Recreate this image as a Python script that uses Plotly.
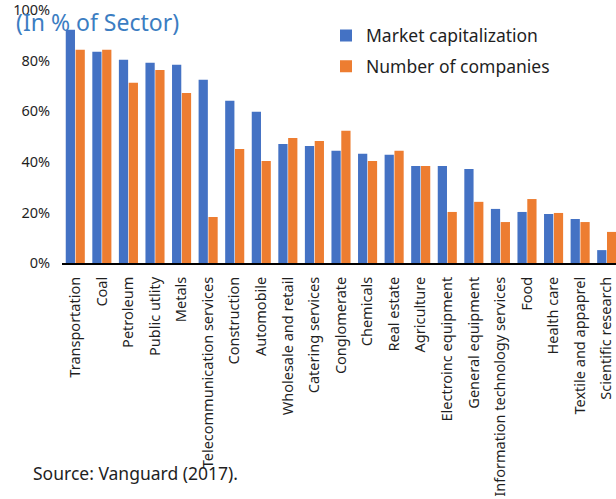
import plotly.graph_objects as go

categories = ["Transportation", "Coal", "Petroleum", "Public utlity", "Metals",
              "Telecommunication services", "Construction", "Automobile",
              "Wholesale and retail", "Catering services", "Conglomerate",
              "Chemicals", "Real estate", "Agriculture", "Electroinc equipment",
              "General equipment", "Information technology services", "Food",
              "Health care", "Textile and appaprel", "Scientific research"]

market_cap = [0.923, 0.836, 0.804, 0.792, 0.784, 0.725, 0.642, 0.598, 0.471, 0.463,
              0.444, 0.432, 0.428, 0.384, 0.384, 0.372, 0.214, 0.202, 0.194, 0.174, 0.051]
num_companies = [0.844, 0.844, 0.713, 0.764, 0.673, 0.182, 0.451, 0.404, 0.495, 0.483,
                 0.523, 0.404, 0.444, 0.384, 0.202, 0.242, 0.162, 0.253, 0.198, 0.162, 0.123]

y_ticks = [0, 0.2, 0.4, 0.6, 0.8, 1.0]
y_tick_labels = ["0%", "20%", "40%", "60%", "80%", "100%"]

BLUE = "#4472C4"
ORANGE = "#ED7D31"
TXT = "#1f1f1f"
FONT = "Noto Sans"

fig = go.Figure()
fig.add_trace(go.Bar(x=categories, y=market_cap, name="Market capitalization",
                     marker=dict(color=BLUE, line=dict(width=0)), legendgroup="a"))
fig.add_trace(go.Bar(x=categories, y=num_companies, name="Number of companies",
                     marker=dict(color=ORANGE, line=dict(width=0)), legendgroup="b"))

PLOT_H = 499 - 10 - 236
PLOT_W = 620 - 62

fig.update_layout(
    width=620, height=499,
    margin=dict(l=62, r=0, t=10, b=236),
    paper_bgcolor="white", plot_bgcolor="white",
    barmode="group", bargap=0.26, bargroupgap=0.06,
    font=dict(family=FONT, color=TXT, size=14),
    showlegend=True,
    legend=dict(x=(326 - 62) / PLOT_W, y=1 + (6 - 13.5) / PLOT_H,
                xanchor="left", yanchor="top",
                font=dict(size=17.5, color=TXT), tracegroupgap=5,
                bgcolor="rgba(0,0,0,0)"),
    xaxis=dict(tickangle=-90, showline=True, linecolor="#000", linewidth=2,
               ticks="outside", ticklen=6, tickcolor="rgba(0,0,0,0)",
               tickfont=dict(size=14.5, color=TXT), showgrid=False,
               range=[-0.5, len(categories) - 0.5]),
    yaxis=dict(range=[0, 1.001], tickvals=y_ticks, ticktext=y_tick_labels,
               showgrid=False, zeroline=False, showline=False,
               ticks="outside", ticklen=8, tickcolor="rgba(0,0,0,0)",
               ticklabeloverflow="allow",
               tickfont=dict(size=14.5, color=TXT)),
)

fig.add_annotation(text="(In % of Sector)", xref="paper", yref="paper",
                   x=0, y=1, xanchor="left", yanchor="middle",
                   xshift=-62 + 14, yshift=-12,
                   showarrow=False, font=dict(size=23, color="#3B7DC2", family=FONT))
fig.add_annotation(text="Source: Vanguard (2017).", xref="paper", yref="paper",
                   x=0, y=0, xanchor="left", yanchor="middle",
                   xshift=-62 + 31, yshift=-210,
                   showarrow=False, font=dict(size=17.5, color=TXT, family=FONT))

fig.write_html("out.html", config={"displayModeBar": False},
               post_script="document.body.style.margin='0';document.body.style.overflow='hidden';document.documentElement.style.overflow='hidden';")
